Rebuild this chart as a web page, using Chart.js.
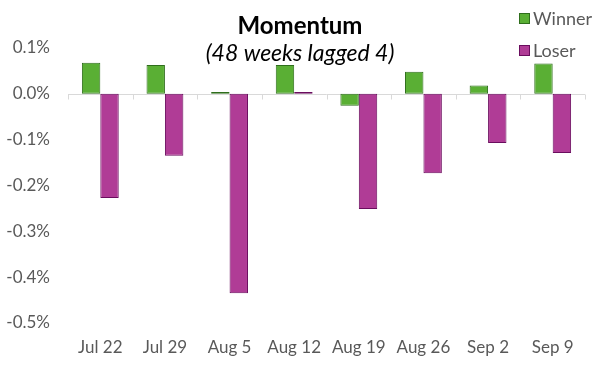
<!DOCTYPE html>
<html>
<head>
<meta charset="utf-8">
<script src="https://cdn.jsdelivr.net/npm/chart.js@4"></script>
<style>
html,body{margin:0;padding:0;background:#fff;}
#wrap{position:relative;width:602px;height:375px;}
</style>
</head>
<body>
<div id="wrap"><canvas id="c" width="602" height="375"></canvas></div>
<script>
const categories = ["Jul 22","Jul 29","Aug 5","Aug 12","Aug 19","Aug 26","Sep 2","Sep 9"];
const winner = [0.068, 0.063, 0.004, 0.063, -0.026, 0.048, 0.018, 0.066];
const loser = [-0.227, -0.135, -0.435, 0.004, -0.251, -0.173, -0.107, -0.129];
const yTicks = [0.1, 0.0, -0.1, -0.2, -0.3, -0.4, -0.5];
const titleText = "Momentum";
const subtitleText = "(48 weeks lagged 4)";

const FONT = "Lato, 'Open Sans', sans-serif";
const GREY = "#595959";

const overlay = {
  id: 'overlay',
  beforeDatasetsDraw(chart) {
    const ctx = chart.ctx, x = chart.scales.x, y = chart.scales.y;
    const y0 = Math.round(y.getPixelForValue(0)) + 0.5;
    ctx.save();
    ctx.strokeStyle = '#D9D9D9';
    ctx.lineWidth = 1;
    ctx.beginPath();
    ctx.moveTo(chart.chartArea.left, y0);
    ctx.lineTo(chart.chartArea.right, y0);
    const n = categories.length;
    for (let i = 0; i <= n; i++) {
      const px = Math.round(x.getPixelForValue(i - 0.5)) + 0.5;
      ctx.moveTo(px, y0);
      ctx.lineTo(px, y0 + 5);
    }
    ctx.stroke();
    ctx.restore();
  },
  afterDraw(chart) {
    const ctx = chart.ctx;
    ctx.save();
    ctx.fillStyle = '#000';
    ctx.textAlign = 'center';
    ctx.textBaseline = 'alphabetic';
    ctx.font = "bold 24px " + FONT;
    ctx.fillText(titleText, 300, 34);
    ctx.font = "italic 23px " + FONT;
    ctx.fillText(subtitleText, 300, 61);
    // legend
    ctx.textAlign = 'left';
    ctx.font = "18px " + FONT;
    chart.data.datasets.forEach((ds, i) => {
      const top = 13 + i * 32;
      ctx.fillStyle = ds.backgroundColor;
      ctx.strokeStyle = ds.borderColor;
      ctx.lineWidth = 1;
      ctx.fillRect(519.5, top + 0.5, 10, 10);
      ctx.strokeRect(519.5, top + 0.5, 10, 10);
      ctx.fillStyle = GREY;
      ctx.fillText(ds.label, 533, top + 12);
    });
    ctx.restore();
  }
};

new Chart(document.getElementById('c'), {
  type: 'bar',
  data: {
    labels: categories,
    datasets: [
      { label: 'Winner', data: winner, backgroundColor: '#5AAF34', borderColor: '#2F6E1C', borderWidth: 1, borderSkipped: false },
      { label: 'Loser', data: loser, backgroundColor: '#B03C96', borderColor: '#6A0D5E', borderWidth: 1, borderSkipped: false }
    ]
  },
  options: {
    responsive: false,
    animation: false,
    devicePixelRatio: 1,
    layout: { padding: { top: 48, right: 17, left: 0, bottom: 0 } },
    plugins: { legend: { display: false }, title: { display: false }, tooltip: { enabled: false } },
    datasets: { bar: { barPercentage: 1.0, categoryPercentage: 0.57 } },
    scales: {
      x: {
        grid: { display: false, drawTicks: false },
        border: { display: false },
        ticks: { color: GREY, font: { family: FONT, size: 17 }, padding: 14, maxRotation: 0, autoSkip: false },
        afterFit(s) { s.height = 52; }
      },
      y: {
        min: -0.5, max: 0.1,
        afterBuildTicks(s) { s.ticks = yTicks.map(v => ({ value: v })); },
        grid: { display: false, drawTicks: false },
        border: { display: false },
        ticks: { color: GREY, font: { family: FONT, size: 17 }, padding: 18, callback: v => v.toFixed(1) + '%' },
        afterFit(s) { s.width = 68; }
      }
    }
  },
  plugins: [overlay]
});
</script>
</body>
</html>
